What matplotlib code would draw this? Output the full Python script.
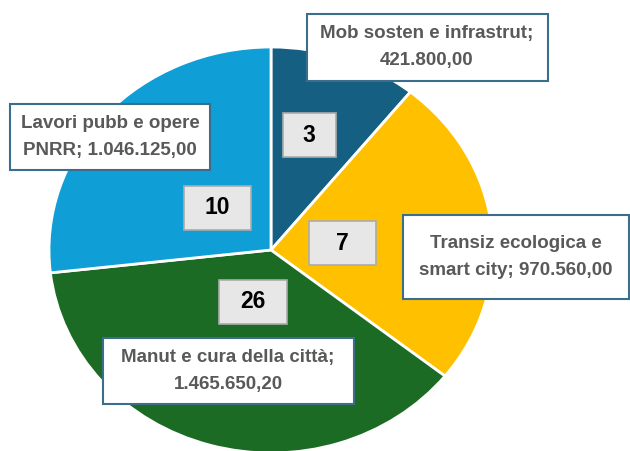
import matplotlib
matplotlib.use("Agg")
import matplotlib.pyplot as plt
from matplotlib.patches import Rectangle

# data
categories = ["Mob sosten e infrastrut", "Transiz ecologica e\nsmart city",
              "Manut e cura della città", "Lavori pubb e opere\nPNRR"]
importi = [421800.00, 970560.00, 1465650.20, 1046125.00]
importi_txt = ["Mob sosten e infrastrut;\n421.800,00",
               "Transiz ecologica e\nsmart city; 970.560,00",
               "Manut e cura della città;\n1.465.650,20",
               "Lavori pubb e opere\nPNRR; 1.046.125,00"]
n_progetti = [3, 7, 26, 10]
colors = ["#156082", "#FFC000", "#1C6B24", "#0F9ED5"]

# layout (pixel positions on the 630x451 canvas)
W, H = 630, 451
count_pos = [(309, 135, 53, 44), (342, 243, 67, 44), (253, 302, 68, 44), (217, 208, 67, 44)]
label_pos = [(427, 47, 241, 67), (516, 257, 225, 84), (228, 371, 251, 66), (110, 137, 201, 66)]

plt.rcParams["font.family"] = ["Liberation Sans", "DejaVu Sans"]

fig = plt.figure(figsize=(W / 100, H / 100), dpi=100)
cx, cy, rx, ry = 271, 250, 222, 203
ax = fig.add_axes([(cx - rx) / W, (H - cy - ry) / H, 2 * rx / W, 2 * ry / H])
ax.pie(importi, colors=colors, startangle=90, counterclock=False,
       wedgeprops=dict(edgecolor="white", linewidth=2))
ax.set_aspect("auto")
ax.set_xlim(-1, 1)
ax.set_ylim(-1, 1)


def box(x, y, w, h, face, edge, lw):
    r = Rectangle(((x - w / 2) / W, 1 - (y + h / 2) / H), w / W, h / H,
                  transform=fig.transFigure, facecolor=face, edgecolor=edge,
                  linewidth=lw, clip_on=False)
    fig.add_artist(r)


for n, (x, y, w, h) in zip(n_progetti, count_pos):
    box(x, y, w, h, "#E7E7E7", "#ABABAB", 1.2)
    fig.text(x / W, 1 - y / H, str(n), ha="center", va="center",
             fontsize=16.5, fontweight="bold", color="black")

for t, (x, y, w, h) in zip(importi_txt, label_pos):
    box(x, y, w, h, "white", "#3C6E8C", 1.5)
    fig.text(x / W, 1 - y / H, t, ha="center", va="center",
             fontsize=13.5, fontweight="bold", color="#595959", linespacing=1.75)

fig.savefig("out.png", dpi=100)
